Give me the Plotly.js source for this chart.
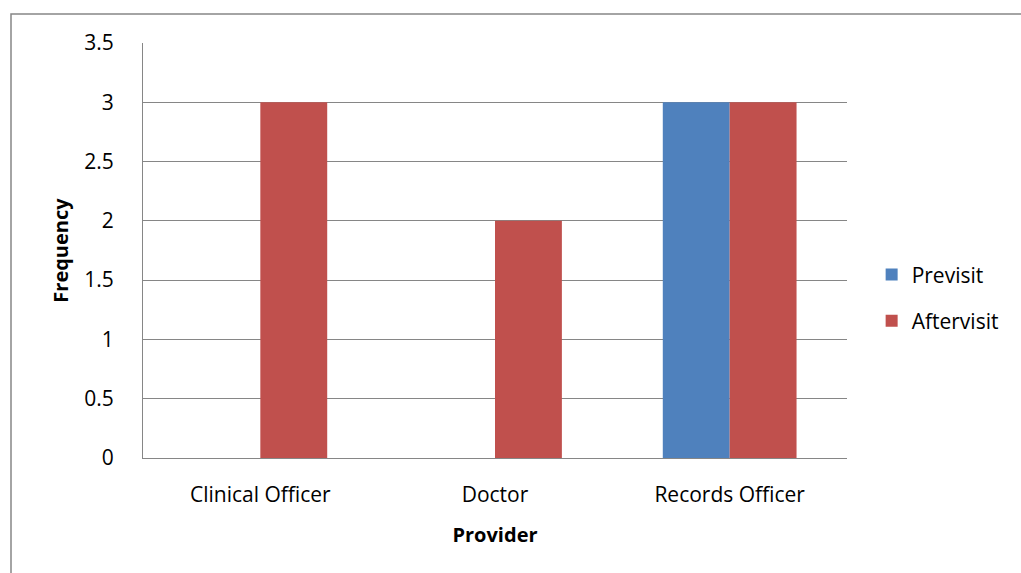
<!DOCTYPE html>
<html>
<head>
<meta charset="utf-8">
<script src="https://cdn.plot.ly/plotly-3.0.1.min.js"></script>
<style>
  html, body { margin: 0; padding: 0; background: #fff; }
  #chart { width: 1021px; height: 573px; }
</style>
</head>
<body>
<div id="chart"></div>
<script>
// Providers on the category axis
const providers = ["Clinical Officer", "Doctor", "Records Officer"];
// Frequency per provider, before and after the visit
const previsit = [0, 0, 3];
const aftervisit = [3, 2, 3];
const yTicks = [0, 0.5, 1, 1.5, 2, 2.5, 3, 3.5];

const FONT = "'Open Sans', 'Liberation Sans', sans-serif";
const SIZE = 21;

const traces = [
  { type: "bar", name: "Previsit", x: providers, y: previsit,
    marker: { color: "#4F81BD" }, legendgroup: "a" },
  { type: "bar", name: "Aftervisit", x: providers, y: aftervisit,
    marker: { color: "#C0504D" }, legendgroup: "b" }
];

const layout = {
  width: 1021, height: 573,
  margin: { l: 143, r: 174, t: 43, b: 115 },
  paper_bgcolor: "#fff", plot_bgcolor: "#fff",
  font: { family: FONT, size: SIZE, color: "#000" },
  barmode: "group",
  bargap: 0.43, bargroupgap: 0,
  showlegend: true,
  legend: { x: 1.035, y: 0.386, xanchor: "left", yanchor: "middle",
            traceorder: "grouped", tracegroupgap: 16,
            itemwidth: 30,
            font: { family: FONT, size: SIZE } },
  xaxis: {
    type: "category",
    showline: true, linecolor: "#868686", linewidth: 1,
    ticks: "outside", ticklen: 18, tickcolor: "rgba(0,0,0,0)",
    title: { text: "<b>Provider</b>", font: { family: FONT, size: SIZE - 1 }, standoff: 20 }
  },
  yaxis: {
    range: [0, 3.5], tickvals: yTicks,
    showline: true, linecolor: "#868686", linewidth: 1,
    gridcolor: "#868686", gridwidth: 1, zeroline: false,
    ticks: "outside", ticklen: 24, tickcolor: "rgba(0,0,0,0)",
    title: { text: "<b>Frequency</b>", font: { family: FONT, size: SIZE - 1 }, standoff: 10 }
  },
  shapes: [
    // outer chart frame
    { type: "rect", xref: "paper", yref: "paper",
      x0: -0.1875, x1: 1.26, y0: -0.3, y1: 1.0699,
      line: { color: "#868686", width: 1.5 }, fillcolor: "rgba(0,0,0,0)", layer: "below" }
  ]
};

Plotly.newPlot("chart", traces, layout, { displayModeBar: false, staticPlot: true });
</script>
</body>
</html>
